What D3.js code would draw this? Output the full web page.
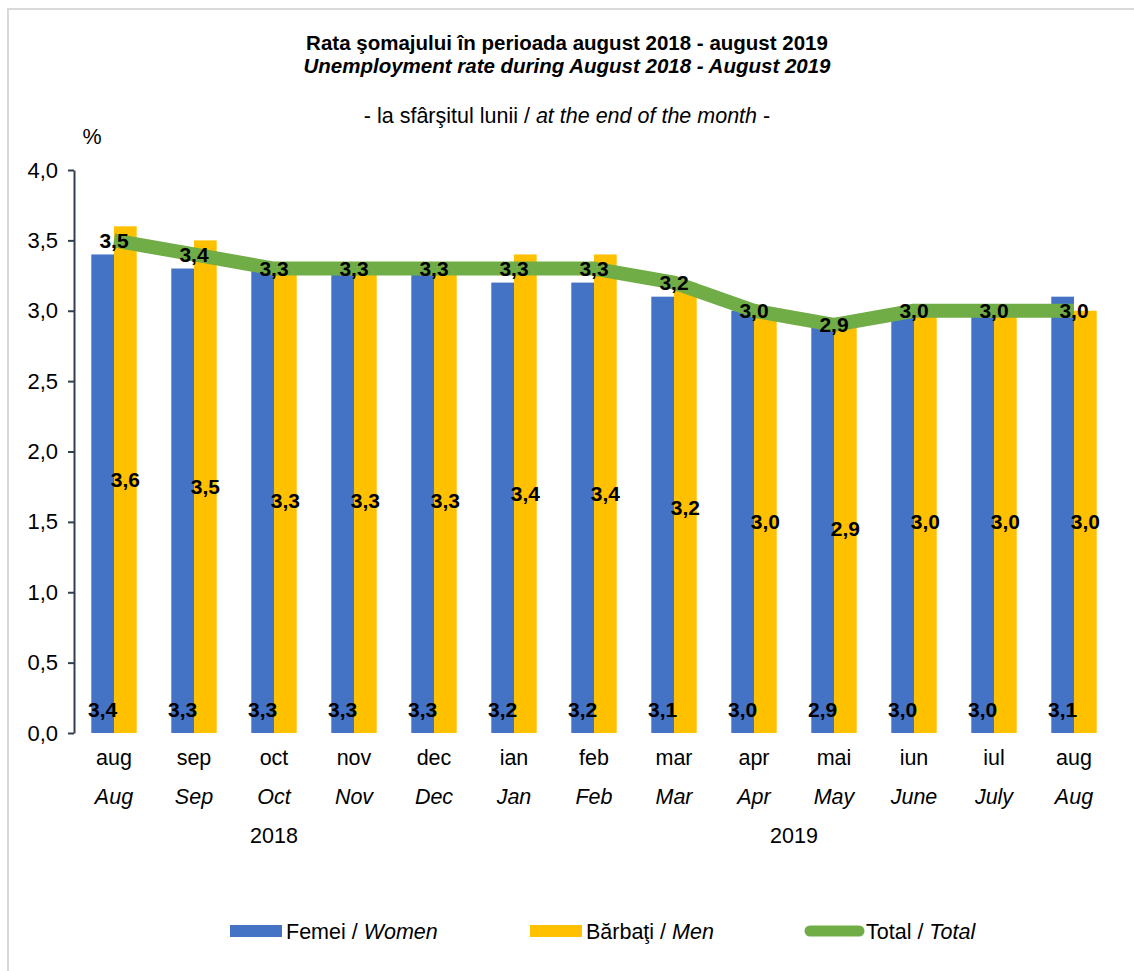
<!DOCTYPE html>
<html><head><meta charset="utf-8">
<script src="https://cdn.jsdelivr.net/npm/d3@7"></script>
<style>body{margin:0;background:#fff}svg{display:block;font-family:Arial,"Liberation Sans",sans-serif}</style>
</head><body>
<svg id="c" width="1134" height="971"></svg>
<script>
const catsRo = ["aug","sep","oct","nov","dec","ian","feb","mar","apr","mai","iun","iul","aug"];
const catsEn = ["Aug","Sep","Oct","Nov","Dec","Jan","Feb","Mar","Apr","May","June","July","Aug"];
const years = [{label:"2018", from:0, to:4},{label:"2019", from:5, to:12}];
const women = [3.4,3.3,3.3,3.3,3.3,3.2,3.2,3.1,3.0,2.9,3.0,3.0,3.1];
const men   = [3.6,3.5,3.3,3.3,3.3,3.4,3.4,3.2,3.0,2.9,3.0,3.0,3.0];
const total = [3.5,3.4,3.3,3.3,3.3,3.3,3.3,3.2,3.0,2.9,3.0,3.0,3.0];
const yTicks = [0,0.5,1,1.5,2,2.5,3,3.5,4];

const svg = d3.select("#c");
const FONT = "Arial, 'Liberation Sans', sans-serif";
const fmt = v => d3.format(".1f")(v).replace(".", ",");
const C = {women:"#4472C4", men:"#FFC000", total:"#70AD47"};

svg.append("rect").attr("x",8).attr("y",9).attr("width",1140).attr("height",990)
  .attr("fill","none").attr("stroke","#d9d9d9").attr("stroke-width",2);

const idx = d3.range(catsRo.length);
const x = d3.scaleBand().domain(idx).range([74,1114]).paddingInner(0).paddingOuter(0);
const y = d3.scaleLinear().domain([0,4]).range([733,170]);
const bw = 22.7;

// titles
svg.append("text").attr("x",567).attr("y",50).attr("text-anchor","middle")
  .attr("font-size",20.5).attr("font-weight","bold").text("Rata şomajului în perioada august 2018 - august 2019");
svg.append("text").attr("x",567).attr("y",73).attr("text-anchor","middle")
  .attr("font-size",20.5).attr("font-weight","bold").attr("font-style","italic").text("Unemployment rate during August 2018 - August 2019");
const sub = svg.append("text").attr("x",567).attr("y",123).attr("text-anchor","middle").attr("font-size",21.5);
sub.append("tspan").text("- la sfârşitul lunii / ");
sub.append("tspan").attr("font-style","italic").text("at the end of the month");
sub.append("tspan").text(" -");
svg.append("text").attr("x",92).attr("y",144).attr("text-anchor","middle").attr("font-size",21.5).text("%");

// y axis
const ya = svg.append("g").attr("transform","translate(74,0)")
  .call(d3.axisLeft(y).tickValues(yTicks).tickFormat(fmt).tickSize(6).tickSizeOuter(0));
ya.select(".domain").attr("stroke","#333F50").attr("stroke-width",2);
ya.selectAll(".tick line").attr("stroke","#333F50").attr("stroke-width",2);
ya.selectAll(".tick text").attr("font-size",22).attr("fill","#000").attr("x",-16)
  .attr("font-family",FONT);

const cx = i => x(i) + x.bandwidth()/2;

// bars
svg.append("g").selectAll("rect").data(women).join("rect")
  .attr("x",(d,i)=>cx(i)-bw).attr("width",bw).attr("y",d=>y(d)).attr("height",d=>y(0)-y(d)).attr("fill",C.women);
svg.append("g").selectAll("rect").data(men).join("rect")
  .attr("x",(d,i)=>cx(i)).attr("width",bw).attr("y",d=>y(d)).attr("height",d=>y(0)-y(d)).attr("fill",C.men);

// total line
svg.append("path").datum(total)
  .attr("d", d3.line().x((d,i)=>cx(i)).y(d=>y(d)))
  .attr("fill","none").attr("stroke",C.total).attr("stroke-width",14).attr("stroke-linejoin","round");

// labels
function addLabels(data, fx, fy){
  svg.append("g").selectAll("text").data(data).join("text")
    .attr("x",fx).attr("y",fy).attr("dy","0.35em")
    .attr("font-size",21).attr("font-weight","bold").attr("text-anchor","middle")
    .text(d=>fmt(d));
}
addLabels(women,(d,i)=>cx(i)-bw/2,()=>710);
addLabels(men,(d,i)=>cx(i)+bw/2,d=>(y(d)+y(0))/2);
addLabels(total,(d,i)=>cx(i),d=>y(d));

// x labels
const xl = svg.append("g");
xl.selectAll("text.ro").data(catsRo).join("text").attr("class","ro")
  .attr("x",(d,i)=>cx(i)).attr("y",765).attr("text-anchor","middle").attr("font-size",21.5).text(d=>d);
xl.selectAll("text.en").data(catsEn).join("text").attr("class","en")
  .attr("x",(d,i)=>cx(i)).attr("y",804).attr("text-anchor","middle").attr("font-size",21.5).attr("font-style","italic").text(d=>d);
xl.selectAll("text.yr").data(years).join("text").attr("class","yr")
  .attr("x",d=>(cx(d.from)+cx(d.to))/2).attr("y",843).attr("text-anchor","middle").attr("font-size",21.5).text(d=>d.label);

// legend
const leg = svg.append("g").attr("font-size",21.5);
const items = [
  {x:230, type:"rect", c:C.women, ro:"Femei / ", en:"Women"},
  {x:530, type:"rect", c:C.men, ro:"Bărbaţi / ", en:"Men"},
  {x:805, type:"line", c:C.total, ro:"Total / ", en:"Total"}
];
items.forEach(it=>{
  if(it.type==="rect"){
    leg.append("rect").attr("x",it.x).attr("y",925).attr("width",52).attr("height",12).attr("fill",it.c);
  } else {
    leg.append("line").attr("x1",it.x+5).attr("x2",it.x+54).attr("y1",931).attr("y2",931)
      .attr("stroke",it.c).attr("stroke-width",11).attr("stroke-linecap","round");
  }
  const t = leg.append("text").attr("x",it.type==="line"? it.x+61 : it.x+56).attr("y",938.5);
  t.append("tspan").text(it.ro);
  t.append("tspan").attr("font-style","italic").text(it.en);
});
</script>
</body></html>
